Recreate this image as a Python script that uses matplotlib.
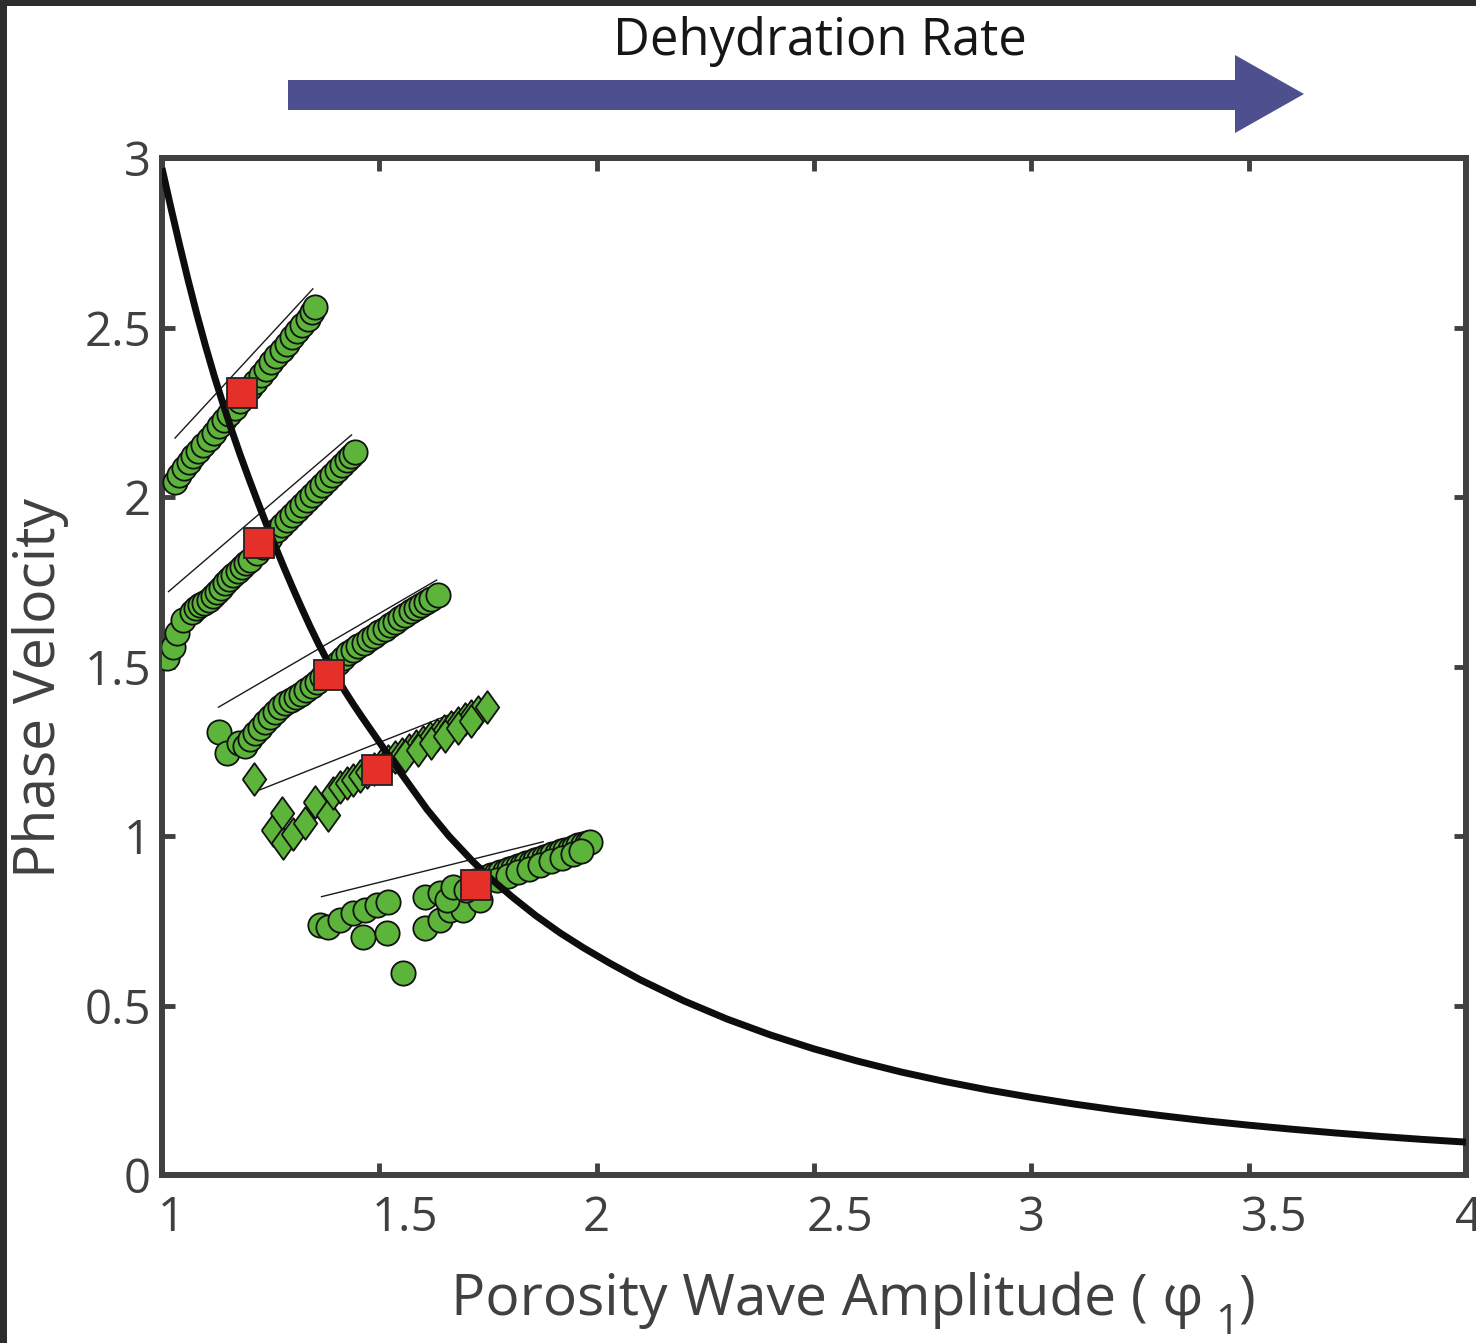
import matplotlib
matplotlib.use("Agg")
import matplotlib.pyplot as plt
from matplotlib.patches import Polygon, Rectangle
from matplotlib.transforms import ScaledTranslation

# ---------------- data ----------------
# theoretical phase velocity vs. porosity wave amplitude
curve_phi = [1.00, 1.02, 1.04, 1.06, 1.08, 1.10, 1.12, 1.14, 1.16, 1.18,
             1.20, 1.22, 1.24, 1.26, 1.28, 1.30, 1.32, 1.34, 1.36, 1.38,
             1.40, 1.42, 1.44, 1.46, 1.48, 1.50, 1.55, 1.61, 1.66, 1.715,
             1.76, 1.808, 1.86, 1.916, 1.97, 2.03, 2.10, 2.20, 2.30, 2.40,
             2.50, 2.60, 2.70, 2.80, 2.90, 3.00, 3.10, 3.20, 3.30, 3.40,
             3.50, 3.60, 3.70, 3.80, 3.90, 4.00]
curve_c = [2.970, 2.856, 2.746, 2.640, 2.540, 2.446, 2.358, 2.276, 2.198, 2.124,
           2.054, 1.986, 1.920, 1.856, 1.794, 1.734, 1.676, 1.620, 1.567, 1.518,
           1.472, 1.429, 1.389, 1.351, 1.314, 1.277, 1.185, 1.078, 1.000, 0.925,
           0.870, 0.818, 0.765, 0.714, 0.670, 0.625, 0.576, 0.514, 0.460, 0.413,
           0.372, 0.336, 0.304, 0.276, 0.251, 0.229, 0.209, 0.191, 0.175, 0.160,
           0.147, 0.135, 0.124, 0.114, 0.105, 0.097]

# steady-state points (red squares)
steady_phi = [1.184, 1.223, 1.384, 1.495, 1.722]
steady_c = [2.307, 1.864, 1.475, 1.195, 0.855]

# simulated wave trains (green markers)
run1_phi = [1.030, 1.040, 1.050, 1.061, 1.072, 1.083, 1.095, 1.107, 1.119, 1.131,
            1.143, 1.155, 1.167, 1.179, 1.191, 1.203, 1.215, 1.227, 1.239, 1.251,
            1.263, 1.275, 1.287, 1.299, 1.311, 1.323, 1.335, 1.345, 1.352]
run1_c = [2.044, 2.066, 2.085, 2.102, 2.120, 2.137, 2.154, 2.172, 2.190, 2.208,
          2.226, 2.245, 2.264, 2.283, 2.302, 2.321, 2.340, 2.359, 2.378, 2.397,
          2.415, 2.434, 2.452, 2.471, 2.489, 2.507, 2.525, 2.545, 2.560]

run2_phi = [1.011, 1.026, 1.034, 1.049, 1.068, 1.078, 1.087, 1.097, 1.107, 1.117,
            1.126, 1.136, 1.145, 1.155, 1.164, 1.174, 1.183, 1.193, 1.202, 1.218,
            1.233, 1.248, 1.264, 1.275, 1.287, 1.298, 1.310, 1.322, 1.333, 1.345,
            1.356, 1.368, 1.379, 1.390, 1.402, 1.414, 1.425, 1.435, 1.444]
run2_c = [1.524, 1.558, 1.598, 1.637, 1.662, 1.672, 1.681, 1.688, 1.696, 1.708,
          1.721, 1.733, 1.745, 1.757, 1.770, 1.782, 1.794, 1.804, 1.814, 1.835,
          1.853, 1.878, 1.903, 1.917, 1.932, 1.947, 1.962, 1.977, 1.991, 2.006,
          2.021, 2.036, 2.050, 2.065, 2.080, 2.095, 2.109, 2.122, 2.134]

run3_phi = [1.130, 1.149, 1.176, 1.191, 1.203,
            1.214, 1.225, 1.236, 1.248, 1.260, 1.272, 1.284, 1.296, 1.308, 1.320,
            1.332, 1.344, 1.356, 1.368, 1.380, 1.392, 1.404, 1.416, 1.428, 1.440,
            1.452, 1.464, 1.476, 1.488, 1.500, 1.512, 1.524, 1.536, 1.548, 1.560,
            1.572, 1.584, 1.596, 1.608, 1.620, 1.636]
run3_c = [1.308, 1.244, 1.274, 1.266, 1.285,
          1.304, 1.320, 1.335, 1.350, 1.366, 1.380, 1.393, 1.402, 1.410, 1.420,
          1.432, 1.443, 1.455, 1.469, 1.482, 1.496, 1.511, 1.525, 1.539, 1.550,
          1.560, 1.570, 1.580, 1.591, 1.601, 1.611, 1.621, 1.631, 1.642, 1.652,
          1.663, 1.673, 1.682, 1.690, 1.699, 1.711]

run4_phi = [1.212, 1.256, 1.279, 1.275, 1.302, 1.329, 1.352, 1.383, 1.394, 1.410,
            1.425, 1.440, 1.456, 1.472, 1.488, 1.504, 1.520, 1.536, 1.552, 1.568,
            1.584, 1.600, 1.616, 1.632, 1.648, 1.664, 1.680, 1.696, 1.712, 1.728,
            1.747, 1.560, 1.590, 1.620, 1.650, 1.680, 1.710]
run4_c = [1.168, 1.018, 0.978, 1.067, 1.007, 1.037, 1.101, 1.062, 1.126, 1.146,
          1.155, 1.165, 1.177, 1.188, 1.199, 1.210, 1.221, 1.232, 1.243, 1.255,
          1.266, 1.277, 1.288, 1.299, 1.311, 1.322, 1.333, 1.344, 1.355, 1.367,
          1.381, 1.235, 1.255, 1.275, 1.296, 1.318, 1.338]

run5_phi = [1.363, 1.382, 1.409, 1.440, 1.467, 1.494, 1.520, 1.463, 1.517, 1.555,
            1.605, 1.605, 1.640, 1.640, 1.663, 1.693, 1.655, 1.670, 1.732, 1.700,
            1.720, 1.738, 1.748, 1.758, 1.768, 1.778, 1.788, 1.798, 1.808, 1.818,
            1.828, 1.838, 1.848, 1.858, 1.868, 1.878, 1.888, 1.898, 1.908, 1.918,
            1.928, 1.938, 1.948, 1.958, 1.968, 1.977, 1.985,
            1.770, 1.795, 1.820, 1.845, 1.870, 1.895, 1.920, 1.945, 1.965]
run5_c = [0.737, 0.732, 0.752, 0.772, 0.782, 0.796, 0.806, 0.703, 0.713, 0.595,
          0.821, 0.728, 0.752, 0.831, 0.782, 0.782, 0.811, 0.850, 0.811, 0.840,
          0.866, 0.875, 0.880, 0.884, 0.889, 0.893, 0.898, 0.902, 0.906, 0.911,
          0.915, 0.920, 0.924, 0.928, 0.933, 0.937, 0.942, 0.946, 0.950, 0.955,
          0.959, 0.963, 0.968, 0.972, 0.976, 0.980, 0.983,
          0.870, 0.882, 0.893, 0.904, 0.914, 0.925, 0.936, 0.947, 0.956]

# linearised trends for each run (start / end)
trend_phi = [[1.030, 1.347], [1.015, 1.436], [1.130, 1.632], [1.225, 1.716], [1.367, 1.877]]
trend_c = [[2.174, 2.614], [1.721, 2.183], [1.380, 1.755], [1.136, 1.386], [0.821, 0.983]]

x_ticks = [1, 1.5, 2, 2.5, 3, 3.5, 4]
x_ticklabels = ["1", "1.5", "2", "2.5", "3", "3.5", "4"]
y_ticks = [0, 0.5, 1, 1.5, 2, 2.5, 3]
y_ticklabels = ["0", "0.5", "1", "1.5", "2", "2.5", "3"]

# ---------------- style ----------------
plt.rcParams["font.family"] = ["Open Sans", "DejaVu Sans"]

W, H = 1476, 1343
fig = plt.figure(figsize=(W / 100, H / 100), dpi=100)
fig.patch.set_facecolor("white")

ax = fig.add_axes([162 / W, 1 - 1175 / H, (1466 - 162) / W, (1175 - 158) / H])
axis_grey = "#404040"
green = "#5cb53a"
red = "#e5302a"

for (px, pc) in zip(trend_phi, trend_c):
    ax.plot(px, pc, color="#1a1a1a", lw=1.0, zorder=2)

circle_kw = dict(ls="none", marker="o", ms=17.5, mfc=green, mec="#111111", mew=1.3, zorder=3)
ax.plot(run1_phi, run1_c, **circle_kw)
ax.plot(run2_phi, run2_c, **circle_kw)
ax.plot(run3_phi, run3_c, **circle_kw)
ax.plot(run5_phi, run5_c, **circle_kw)
diamond = [(-0.72, 0.0), (0.0, 1.0), (0.72, 0.0), (0.0, -1.0), (-0.72, 0.0)]
ax.plot(run4_phi, run4_c, ls="none", marker=diamond, ms=23.5, mfc=green,
        mec="#111111", mew=1.3, zorder=3)

ax.plot(curve_phi, curve_c, color="#0d0d0d", lw=5.0, solid_joinstyle="round",
        solid_capstyle="butt", zorder=4)
ax.plot(steady_phi, steady_c, ls="none", marker="s", ms=22, mfc=red,
        mec="#222222", mew=1.3, zorder=5)

ax.set_xlim(1, 4)
ax.set_ylim(0, 3)
ax.set_xticks(x_ticks)
ax.set_xticklabels(x_ticklabels)
ax.set_yticks(y_ticks)
ax.set_yticklabels(y_ticklabels)
for s in ax.spines.values():
    s.set_color(axis_grey)
    s.set_linewidth(4.3)
ax.tick_params(direction="in", length=9, width=3.5, top=True, right=True,
               color=axis_grey, labelcolor=axis_grey, labelsize=34)
ax.tick_params(axis="x", pad=14)
ax.tick_params(axis="y", pad=8)

# nudge the x tick labels horizontally
x_shift_px = [9, 26, 0, 26, 0, 26, 2]
for lab, dx in zip(ax.get_xticklabels(), x_shift_px):
    lab.set_transform(lab.get_transform() + ScaledTranslation(dx / 100, 0, fig.dpi_scale_trans))

fig.text(41 / W, 1 - 688 / H, "Phase Velocity", rotation=90, ha="center", va="center",
         fontsize=41, color=axis_grey)

# x label, with a large lowered subscript
renderer = fig.canvas.get_renderer()
base_y = H - 1315
t_main = fig.text(451 / W, base_y / H, "Porosity Wave Amplitude ( φ", ha="left",
                  va="baseline", fontsize=41, color=axis_grey)
bb = t_main.get_window_extent(renderer)
t_sub = fig.text((bb.x1 + 12) / W, (base_y - 19) / H, "1", ha="left", va="baseline",
                 fontsize=30, color=axis_grey)
bb2 = t_sub.get_window_extent(renderer)
fig.text((bb2.x1 - 1) / W, base_y / H, ")", ha="left", va="baseline",
         fontsize=41, color=axis_grey)

# dehydration-rate arrow above the axes
arrow_px = [(288, 80), (1235, 80), (1235, 55), (1304, 94), (1235, 133), (1235, 110), (288, 110)]
fig.patches.append(Polygon([(x / W, 1 - y / H) for x, y in arrow_px], closed=True,
                           facecolor="#4d4f8f", edgecolor="none",
                           transform=fig.transFigure, figure=fig))
fig.text(820 / W, 1 - 55 / H, "Dehydration Rate", ha="center", va="baseline",
         fontsize=36.5, color="#161616")

# dark frame along the top and left edges
frame = "#2d2d2d"
fig.patches.append(Rectangle((0, 1 - 6 / H), 1, 6 / H, transform=fig.transFigure,
                             facecolor=frame, edgecolor="none", figure=fig))
fig.patches.append(Rectangle((0, 0), 7 / W, 1, transform=fig.transFigure,
                             facecolor=frame, edgecolor="none", figure=fig))

fig.savefig("out.png", dpi=100)
